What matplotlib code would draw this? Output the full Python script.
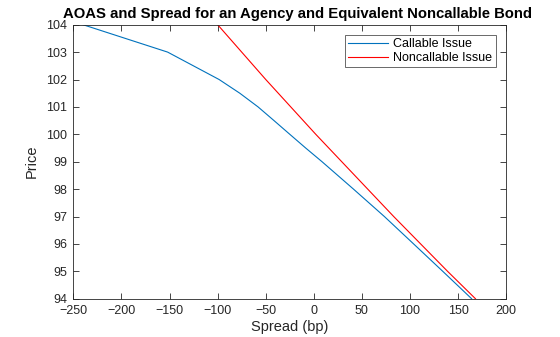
import matplotlib
matplotlib.use("Agg")
import matplotlib.pyplot as plt

# callable issue: option-adjusted spread vs price
price_call = [94, 95, 96, 97, 98, 99, 99.5, 100, 100.5, 101, 101.5, 102, 103, 104]
oas_callable = [164, 134, 103.7, 73.3, 41.2, 8.5, -8.5, -25, -41.4, -58, -77, -98.5, -152, -240]
# noncallable issue: plain spread vs price
price_nc = [94, 95, 96, 97, 98, 99, 100, 101, 102, 103, 104]
spread_noncall = [168, 139, 111, 83, 56, 29, 2, -24, -50, -75, -100]

plt.rcParams['font.family'] = ['Liberation Sans', 'DejaVu Sans']
ax_col = '#262626'

fig = plt.figure(figsize=(5.6, 3.37), dpi=100)
ax = fig.add_axes([0.131, 0.1136, 0.773, 0.8131])
ax.plot(oas_callable, price_call, color='#0072BD', lw=0.8, label='Callable Issue')
ax.plot(spread_noncall, price_nc, color='#FF0000', lw=0.8, label='Noncallable Issue')

ax.set_xlim(-250, 200)
ax.set_ylim(94, 104)
ax.set_xticks(range(-250, 201, 50))
ax.set_yticks(range(94, 105))
ax.tick_params(direction='in', top=True, right=True, labelsize=9,
               colors=ax_col, length=4, width=0.6, pad=4.5)
for s in ax.spines.values():
    s.set_color(ax_col)
    s.set_linewidth(0.6)

ax.set_xlabel('Spread (bp)', fontsize=10.5, color=ax_col, labelpad=2)
ax.set_ylabel('Price', fontsize=10.5, color=ax_col, labelpad=5)
ax.set_title('AOAS and Spread for an Agency and Equivalent Noncallable Bond',
             fontsize=10.7, fontweight='bold', color='black', pad=5, x=0.518)

leg = ax.legend(loc='upper right', fontsize=9, frameon=True, fancybox=False,
                edgecolor=ax_col, borderaxespad=0.85, handlelength=3.2,
                borderpad=0.25, labelspacing=0.15, handletextpad=0.4)
leg.get_frame().set_linewidth(0.6)

fig.savefig('out.png', dpi=100)
